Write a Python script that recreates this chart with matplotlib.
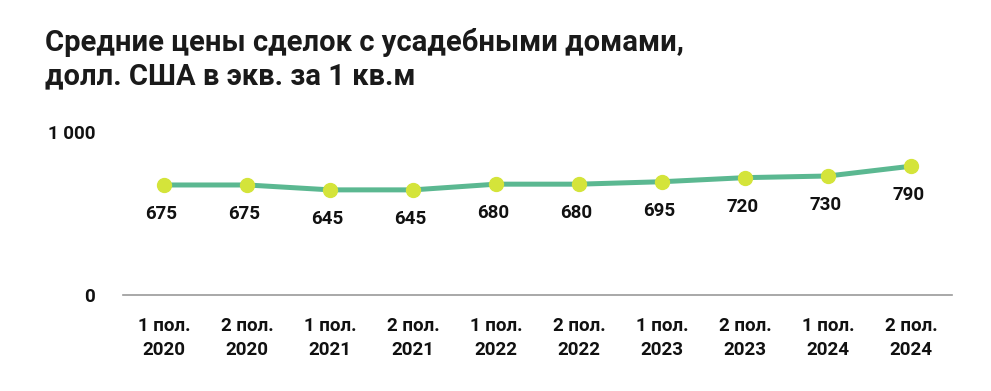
import matplotlib
matplotlib.use("Agg")
import matplotlib.pyplot as plt

plt.rcParams["font.family"] = ["Roboto", "DejaVu Sans"]

periods = ["1 пол.\n2020", "2 пол.\n2020", "1 пол.\n2021", "2 пол.\n2021", "1 пол.\n2022",
           "2 пол.\n2022", "1 пол.\n2023", "2 пол.\n2023", "1 пол.\n2024", "2 пол.\n2024"]
prices = [675, 675, 645, 645, 680, 680, 695, 720, 730, 790]
y_ticks = [0, 1000]
y_tick_labels = ["0", "1 000"]

LINE = "#5bb891"
DOT = "#d4e43a"

fig = plt.figure(figsize=(9.91, 3.91), dpi=100)
ax = fig.add_axes([0.124, 0.2455, 0.837, 0.4169])

x = list(range(len(periods)))
ax.plot(x, prices, color=LINE, lw=3.6, zorder=2, clip_on=False)
ax.plot(x, prices, "o", color=DOT, ms=10, zorder=3, clip_on=False)

for xi, v in zip(x, prices):
    ax.annotate(str(v), (xi, v), xytext=(-2, -21), textcoords="offset points",
                ha="center", va="center", fontsize=13.5, fontweight="bold", color="#111111")

ax.set_xlim(-0.5, len(periods) - 0.5)
ax.set_ylim(0, 1000)
ax.set_xticks(x)
ax.set_xticklabels(periods, fontsize=13.5, fontweight="bold", color="#111111", linespacing=1.4)
ax.set_yticks(y_ticks)
ax.set_yticklabels(y_tick_labels, fontsize=13.5, fontweight="bold", color="#111111")
ax.tick_params(axis="x", length=0, pad=16)
ax.tick_params(axis="y", length=0, pad=20)

for side in ["top", "right", "left"]:
    ax.spines[side].set_visible(False)
ax.spines["bottom"].set_color("#9a9a9a")
ax.spines["bottom"].set_linewidth(1.2)

fig.text(0.045, 0.848, "Средние цены сделок с усадебными домами,\nдолл. США в экв. за 1 кв.м",
         fontsize=21, fontweight="bold", color="#1a1a1a", va="center", linespacing=1.25)

fig.savefig("out.png", dpi=100)
